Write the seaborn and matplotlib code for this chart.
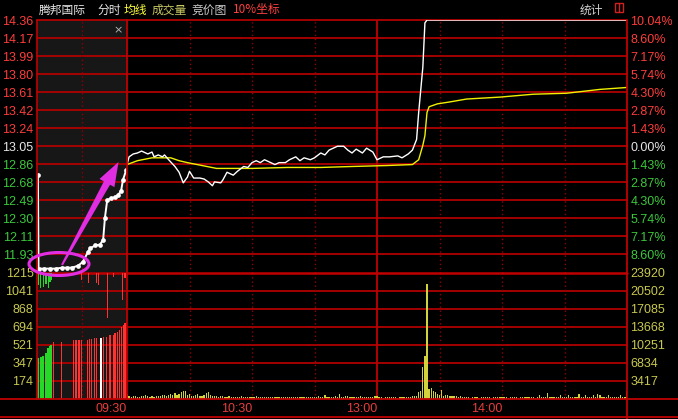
import matplotlib
matplotlib.use("Agg")
import matplotlib.pyplot as plt
from matplotlib.patches import Ellipse, Polygon, Rectangle
import numpy as np
import pandas as pd
import seaborn as sns

# ---------------- data ----------------
STOCK_NAME = "腾邦国际"
PREV_CLOSE = 13.05
LIMIT_PCT = 10.04

PRICE_TICK_LABELS = ["11.74", "11.93", "12.11", "12.30", "12.49", "12.68", "12.86", "13.05",
                     "13.24", "13.42", "13.61", "13.80", "13.99", "14.17", "14.36"]
PCT_TICK_LABELS = ["10.04%", "8.60%", "7.17%", "5.74%", "4.30%", "2.87%", "1.43%", "0.00%",
                   "1.43%", "2.87%", "4.30%", "5.74%", "7.17%", "8.60%", "10.04%"]
VOL_LEFT_LABELS = ["174", "347", "521", "694", "868", "1041", "1215"]
VOL_RIGHT_LABELS = ["3417", "6834", "10251", "13668", "17085", "20502", "23920"]
VOL_LEFT_MAX = 1215
VOL_RIGHT_MAX = 23920
TIME_TICKS = [0, 60, 120, 180]
TIME_LABELS = ["09:30", "10:30", "13:00", "14:00"]

# call auction (minutes after 9:15)
AUC_T = [0.10, 0.17, 0.80, 1.45, 2.10, 2.80, 3.35, 3.90, 4.55, 5.10, 5.65, 5.90, 6.45,
         7.00, 7.35, 7.55, 7.80, 8.20, 8.65, 9.00, 9.35, 9.55, 9.90]
AUC_PRICE = [12.75, 11.78, 11.78, 11.78, 11.78, 11.79, 11.79, 11.79, 11.81, 11.85, 11.95,
             11.99, 12.02, 12.03, 12.08, 12.31, 12.49, 12.51, 12.52, 12.54, 12.59, 12.70, 12.80]
AUC_GREEN_T = [0.14, 0.41, 0.70, 1.00, 1.26, 1.44, 1.59]
AUC_GREEN_VOL = [394, 403, 413, 442, 490, 509, 519]
AUC_GREEN_UNMATCHED = [120, 150, 140, 110, 150, 90, 70]
AUC_RED_T = [1.81, 2.74, 4.03, 4.33, 4.67, 4.97, 5.59, 5.81, 6.08, 6.37, 6.63, 7.37, 7.74,
             8.11, 8.48, 8.67, 8.92, 9.14, 9.41, 9.59, 9.78, 9.97]
AUC_RED_VOL = [550, 550, 567, 567, 567, 567, 567, 575, 575, 583, 583, 598, 598, 610, 615,
               631, 645, 663, 690, 711, 727, 743]
AUC_WHITE_T = [7.11]
AUC_WHITE_VOL = [590]
AUC_RED_UNM_T = [4.97, 5.70, 6.63, 6.81, 7.81, 8.48, 9.52, 9.78]
AUC_RED_UNM = [72, 101, 101, 120, 437, 43, 264, 53]

# continuous trading (minute index from 09:30)
PRICE_MIN = [0, 1, 3, 5, 7, 9, 10, 12, 13, 15, 17, 18, 20, 23, 25, 27, 29, 30, 32, 35, 37,
             39, 41, 42, 45, 46, 48, 51, 53, 56, 58, 60, 62, 64, 66, 69, 71, 73, 76, 78, 81,
             83, 85, 88, 90, 93, 95, 97, 101, 104, 106, 108, 110, 113, 115, 118, 120, 123,
             126, 130, 132, 135, 137, 139, 140, 142, 143, 144, 240]
PRICE = [12.86, 12.94, 12.97, 12.98, 13.00, 12.98, 12.97, 12.99, 12.94, 12.96, 12.94, 12.96,
         12.91, 12.84, 12.78, 12.67, 12.73, 12.79, 12.72, 12.72, 12.71, 12.68, 12.64, 12.68,
         12.67, 12.70, 12.78, 12.75, 12.79, 12.84, 12.83, 12.88, 12.90, 12.88, 12.91, 12.88,
         12.86, 12.88, 12.88, 12.91, 12.94, 12.90, 12.93, 12.91, 12.93, 12.98, 12.96, 13.01,
         13.05, 13.05, 13.01, 12.98, 13.02, 12.98, 13.03, 12.99, 12.91, 12.94, 12.94, 12.95,
         12.93, 12.97, 13.01, 13.12, 13.40, 13.87, 14.33, 14.36, 14.36]
AVG_MIN = [0, 5, 12, 21, 25, 29, 36, 43, 60, 77, 93, 108, 125, 137, 140, 142, 143, 144, 145,
           149, 155, 163, 179, 195, 211, 227, 240]
AVG_PRICE = [12.86, 12.90, 12.93, 12.93, 12.90, 12.88, 12.85, 12.82, 12.82, 12.83, 12.83,
             12.84, 12.85, 12.86, 12.91, 13.06, 13.16, 13.40, 13.46, 13.49, 13.51, 13.54,
             13.56, 13.59, 13.60, 13.64, 13.66]
VOLUME = [
    900, 650, 420, 520, 600, 380, 450, 520, 640, 700,
    560, 420, 480, 350, 540, 620, 480, 700, 820, 560,
    760, 980, 820, 1120, 760, 900, 1250, 1500, 1480, 760,
    880, 620, 560, 700, 900, 640, 580, 760, 1050, 1380,
    720, 560, 480, 520, 400, 640, 560, 420, 380, 520,
    460, 380, 440, 360, 420, 500, 380, 460, 340, 300,
    420, 360, 520, 300, 380, 460, 340, 420, 380, 300,
    360, 440, 300, 380, 340, 460, 400, 320, 380, 420,
    300, 360, 420, 340, 300, 380, 460, 360, 320, 400,
    440, 380, 520, 460, 360, 760, 420, 380, 320, 460,
    520, 380, 900, 420, 360, 480, 640, 380, 420, 340,
    460, 380, 520, 420, 360, 300, 460, 380, 420, 560,
    480,
    300, 380, 260, 420, 340, 300, 460, 380, 320, 280,
    400, 360, 300, 420, 380, 460, 520, 600,
    640, 1260, 1580, 6050, 8190, 21750, 1890, 2020, 1580, 1260,
    950, 820, 1700, 570, 760, 820, 500, 640, 480, 560, 420, 500,
    380, 300, 420, 360, 280, 340, 400, 300, 260, 360,
    420, 340, 300, 380, 280, 320, 460, 360, 300, 340,
    380, 300, 260, 420, 360, 300, 340, 280, 360, 420,
    300, 380, 340, 420, 300, 260, 360, 820, 400, 340,
    300, 1080, 380, 320, 400, 300, 360, 820, 340, 300,
    380, 760, 300, 360, 420, 340, 950, 380, 420, 820,
    360, 400, 440, 760, 300, 950, 820, 380, 340, 400,
    760, 380, 340, 420, 300, 360, 800, 340, 420, 1450,
]

# ---------------- style ----------------
sns.set_theme(style="ticks", rc={"axes.facecolor": "black", "figure.facecolor": "black",
                                 "savefig.facecolor": "black", "axes.grid": False})
plt.rcParams["font.family"] = ["Liberation Sans", "Noto Sans CJK SC", "DejaVu Sans"]
CJK = ["Noto Sans CJK SC", "DejaVu Sans"]

GRID = "#b00000"
SEP = "#c00000"
DOT = "#900000"
UP = "#ff3c3c"
DOWN = "#3cc83c"
FLAT = "#e6e6e6"
VOLTXT = "#c8c850"
YEL = "#f0f000"
VOLBAR = "#d2d23c"
MAG = "#e22ee2"

W, H = 678, 419
LEFT, SPLIT, RIGHT = 37, 127, 627
TOP, MID, VBOT, TBOT = 20, 272.5, 399, 417

fig = plt.figure(figsize=(W / 100, H / 100), dpi=100, facecolor="black")


def px_axes(x0, y0, x1, y1, **kw):
    return fig.add_axes([x0 / W, 1 - y1 / H, (x1 - x0) / W, (y1 - y0) / H], **kw)


ax_ap = px_axes(LEFT, TOP, SPLIT, MID)
ax_tp = px_axes(SPLIT, TOP, RIGHT, MID)
ax_av = px_axes(LEFT, MID, SPLIT, VBOT)
ax_tv = px_axes(SPLIT, MID, RIGHT, VBOT)

lo = PREV_CLOSE * (1 - LIMIT_PCT / 100)
hi = PREV_CLOSE * (1 + LIMIT_PCT / 100)
levels = [PREV_CLOSE * (1 + k * LIMIT_PCT / 7 / 100) for k in range(-7, 8)]

for ax in (ax_ap, ax_av):
    ax.set_facecolor("#171717")
    ax.set_xlim(0, 10)
for ax in (ax_tp, ax_tv):
    ax.set_facecolor("black")
    ax.set_xlim(0, 240)
for ax in (ax_ap, ax_tp):
    ax.set_ylim(lo, hi)
ax_av.set_ylim(0, VOL_LEFT_MAX)
ax_tv.set_ylim(0, VOL_RIGHT_MAX)

for ax in (ax_ap, ax_tp, ax_av, ax_tv):
    for s in ax.spines.values():
        s.set_visible(False)
    ax.grid(False)

# grid lines
for ax in (ax_ap, ax_tp):
    for lev in levels[1:]:
        ax.axhline(lev, color=GRID, lw=1.3, zorder=0.5, clip_on=False)
for ax, vmax in ((ax_av, VOL_LEFT_MAX), (ax_tv, VOL_RIGHT_MAX)):
    for k in range(1, 7):
        ax.axhline(vmax * k / 7, color=GRID, lw=1.3, zorder=0.5)
    ax.axhline(vmax, color=SEP, lw=1.8, zorder=0.6, clip_on=False)
for ax in (ax_ap, ax_av):
    ax.axvline(5, color=DOT, lw=1, ls=(0, (1, 2)), zorder=0.5)
for ax in (ax_tp, ax_tv):
    for m in (30, 60, 90, 150, 180, 210):
        ax.axvline(m, color=DOT, lw=1, ls=(0, (1, 2)), zorder=0.5)
    ax.axvline(120, color=SEP, lw=1.3, zorder=0.6)

# ---------------- price lines ----------------
auc = pd.DataFrame({"t": AUC_T, "price": AUC_PRICE})
sns.lineplot(data=auc, x="t", y="price", ax=ax_ap, color="white", lw=1.4, marker="o",
             markersize=3.4, markeredgewidth=0, estimator=None, sort=False, zorder=3)

avg = pd.DataFrame({"minute": AVG_MIN, "price": AVG_PRICE})
sns.lineplot(data=avg, x="minute", y="price", ax=ax_tp, color=YEL, lw=1.0,
             estimator=None, sort=False, zorder=3)
px = pd.DataFrame({"minute": PRICE_MIN, "price": PRICE})
sns.lineplot(data=px, x="minute", y="price", ax=ax_tp, color="white", lw=1.0,
             estimator=None, sort=False, zorder=4)

# ---------------- volume bars ----------------
ax_av.bar(AUC_GREEN_T, AUC_GREEN_VOL, width=0.2, color="#28d828", lw=0, zorder=2)
ax_av.bar(AUC_GREEN_T, AUC_GREEN_UNMATCHED, width=0.12,
          bottom=[VOL_LEFT_MAX - v for v in AUC_GREEN_UNMATCHED], color="#28d828", lw=0, zorder=2)
ax_av.bar(AUC_RED_T, AUC_RED_VOL, width=0.15, color="#ff3232", lw=0, zorder=2)
ax_av.bar(AUC_WHITE_T, AUC_WHITE_VOL, width=0.15, color="white", lw=0, zorder=2)
ax_av.bar(AUC_RED_UNM_T, AUC_RED_UNM, width=0.15,
          bottom=[VOL_LEFT_MAX - v for v in AUC_RED_UNM], color="#ff3232", lw=0, zorder=2)

vol = pd.DataFrame({"minute": list(range(len(VOLUME))), "volume": VOLUME})
sns.barplot(data=vol, x="minute", y="volume", ax=ax_tv, native_scale=True, width=0.6,
            color=VOLBAR, saturation=1, errorbar=None, linewidth=0, zorder=2)
ax_tv.set_xlim(0, 240)
ax_tv.set_ylim(0, VOL_RIGHT_MAX)

# ---------------- ticks & labels ----------------
for ax in (ax_ap, ax_tp, ax_av, ax_tv):
    ax.set_xlabel("")
    ax.set_ylabel("")

def lev_color(i):
    return UP if i > 7 else (FLAT if i == 7 else DOWN)

ax_ap.set_xticks([])
ax_ap.set_yticks(levels[1:])
ax_ap.set_yticklabels(PRICE_TICK_LABELS[1:])
ax_ap.tick_params(axis="y", length=0, pad=2.5, labelsize=9)
for i, lbl in enumerate(ax_ap.get_yticklabels(), start=1):
    lbl.set_color(lev_color(i))

ax_tp.set_xticks([])
ax_tp.yaxis.tick_right()
ax_tp.set_yticks(levels[1:])
ax_tp.set_yticklabels(PCT_TICK_LABELS[1:])
ax_tp.tick_params(axis="y", length=0, pad=2.5, labelsize=9)
for i, lbl in enumerate(ax_tp.get_yticklabels(), start=1):
    lbl.set_color(lev_color(i))

ax_av.set_xticks([])
ax_av.set_yticks([VOL_LEFT_MAX * k / 7 for k in range(1, 8)])
ax_av.set_yticklabels(VOL_LEFT_LABELS)
ax_av.tick_params(axis="y", length=0, pad=2.5, labelsize=9, colors=VOLTXT)

ax_tv.yaxis.tick_right()
ax_tv.set_yticks([VOL_RIGHT_MAX * k / 7 for k in range(1, 8)])
ax_tv.set_yticklabels(VOL_RIGHT_LABELS)
ax_tv.tick_params(axis="y", length=0, pad=2.5, labelsize=9, colors=VOLTXT)
ax_tv.set_xticks(TIME_TICKS)
ax_tv.set_xticklabels(TIME_LABELS)
ax_tv.tick_params(axis="x", length=0, pad=3.2, labelsize=9, colors="#e83c3c")
for lbl in ax_tv.get_xticklabels():
    lbl.set_horizontalalignment("right")

# ---------------- overlay: borders, title, annotations ----------------
ov = fig.add_axes([0, 0, 1, 1], zorder=10)
ov.set_xlim(0, W)
ov.set_ylim(H, 0)
ov.axis("off")
ov.patch.set_alpha(0)

ov.plot([LEFT, LEFT], [TOP, VBOT], color=SEP, lw=1.2)
ov.plot([SPLIT, SPLIT], [TOP, VBOT], color=SEP, lw=1.3)
ov.plot([RIGHT, RIGHT], [TOP, H], color=SEP, lw=1.3)
ov.plot([0, W], [VBOT, VBOT], color=SEP, lw=1.3)
ov.plot([0, W], [TBOT, TBOT], color=SEP, lw=1.3)

title_items = [(39, STOCK_NAME, "#e6e6e6"), (97, "分时", "#e6e6e6"), (124, "均线", "#ffff3c"),
               (152, "成交量", "#c8c864"), (192, "竞价图", "#c8c8c8"), (233, "10%坐标", "#ff4040"),
               (580, "统计", "#d0d0d0")]
for x, t, c in title_items:
    ov.text(x, 10, t, color=c, fontsize=8.5, family=CJK, va="center", ha="left")
ov.add_patch(Rectangle((615, 3.5), 8, 9, fill=False, edgecolor="#d02020", lw=1))
ov.plot([619, 619], [3.5, 12.5], color="#d02020", lw=1)
ov.text(118, 30, "×", color="#b4b4b4", fontsize=8, ha="center", va="center",
        family=["DejaVu Sans"])

# magenta ellipse + arrow
ov.add_patch(Ellipse((59, 264), 60, 23, fill=False, edgecolor=MAG, lw=2.2, zorder=20))
tail = np.array([62.0, 265.0])
tip = np.array([118.5, 162.0])
u = (tip - tail) / np.linalg.norm(tip - tail)
p = np.array([-u[1], u[0]])
neck = tip - 24 * u
pts = [tail + 1.0 * p, neck + 3.5 * p, neck + 8.5 * p, tip,
       neck - 8.5 * p, neck - 3.5 * p, tail - 1.0 * p]
ov.add_patch(Polygon(pts, closed=True, color=MAG, lw=0, zorder=21))

fig.savefig("out.png", dpi=100, facecolor="black")
